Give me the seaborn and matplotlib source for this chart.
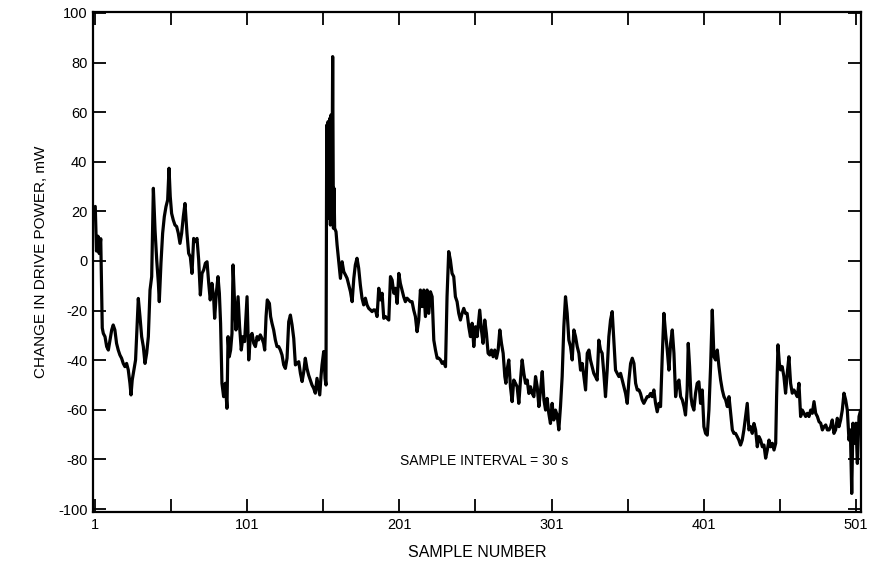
import matplotlib
matplotlib.use("Agg")
import matplotlib.pyplot as plt
import seaborn as sns
import pandas as pd

# ---- data (sample number, change in drive power in mW) ----
sample = [
    1, 1.8, 2.8, 3.6, 4.6, 5.6,
    6.3, 7.4, 8.5, 9.6, 10.7, 11.8, 12.8, 13.9, 15, 16.1, 17.2, 18.3, 19.4, 20.5, 21.6, 22.7, 23.8, 24.5,
    25.3, 26.4, 27.5, 28.6, 29.3, 30.4, 31.5, 32.6, 33.7, 34.8, 35.9, 37, 38.1, 39.2, 40.3, 41.4, 42.5,
    43.1, 44.2, 45.3, 46.4, 47.5, 48.6, 49.5, 50.3, 51.2, 52.3, 53.4, 54.5, 55.6, 56.7, 57.8, 58.9, 60,
    61.3, 62.4, 63.5, 64.6, 65.7, 66.8, 67.9, 69, 70.1, 71.2, 72.3, 73.4, 74.5, 75.6, 76.6, 77.7, 78.8,
    79.5, 80.6, 81.7, 82.6, 83.4, 84.3, 85.4, 86.5, 87.6, 88.3, 89.1, 90, 90.9, 91.6, 92.7, 93.5, 94.9,
    95.9, 97, 98.1, 99.2, 100.8, 101.9, 103, 104.1, 105.2, 106.3, 107.4, 108.4, 109.5, 110.6, 111.7,
    112.4, 113.3, 114.1, 115.5, 116.3, 117.2, 118.3, 119.4, 120.5, 121.6, 122.7,
    123.8, 124.9, 126, 127.1, 128.2, 129.3, 130.4, 131.5, 132.6, 133.7, 134.8, 135.9, 137, 138.1, 139.1,
    140.2, 141.3, 142.4, 143.5, 144.6, 145.7, 146.8, 147.9, 148.6, 149.5, 150.1, 151.2, 152.1, 152.7,
    153.2, 153.6, 154.1, 154.7, 155.2, 155.6, 156, 156.7, 157.1, 157.6, 158, 158.4, 159.3, 160, 161.1,
    162.2, 163.3, 164.4, 165.5, 166.6, 167.7, 168.8, 169.9, 171, 172, 173.1, 174.2, 175.3, 176.4, 177.5,
    178.6, 179.7, 180.8, 181.9, 183, 184.1,
    185.2, 186.3, 187.4, 188.5, 189.6, 190.7, 191.8, 192.9, 194, 195.1, 196.2, 197.3, 198.4, 199.5,
    200.6, 201.6, 202.7, 203.8, 204.9, 206, 207.1, 208.2, 209.3, 210.4, 211.5, 212.6, 213.7, 214.8,
    215.9, 217, 218.1, 219.2, 220.3, 221.4, 222.5, 223.6, 224.7, 225.8, 226.9, 228, 229.1, 230.2, 231.3,
    232.3, 233.4, 234.5, 235.6, 236.7, 237.8, 238.9, 240, 241.1, 242.2, 243.3, 244.4, 245.5, 246.6,
    247.7, 248.8,
    249.9, 251, 252.1, 253.2, 253.8, 254.9, 256, 257.1, 258.2, 259.3, 260.4, 261.5, 262.6, 263.7, 264.8,
    265.9, 267, 268.1, 269.2, 270.3, 271, 271.8, 272.9, 274, 275.1, 276.2, 277.3, 278.4, 279.5, 280.6,
    281.7, 282.8, 283.9, 285, 286.1, 287.2, 288.3, 289.4, 290.5, 291.6, 292.7, 293.8, 294.9, 296, 297.1,
    298.1, 299.2, 300.3, 301.4, 302.5, 303.6, 304.7, 305.8, 306.9, 308, 309.1, 310.2, 311.3,
    312.4, 313.5, 314.6, 315.7, 316.8, 317.9, 319, 320.1, 321.2, 322.3, 323.4, 324.5, 325.6, 326.6,
    327.7, 328.8, 329.9, 331, 332.1, 333.2, 334.3, 335.4, 336.5, 337.6, 338.7, 339.8, 340.9, 342, 343.1,
    344.2, 345.3, 346.4, 347.5, 348.6, 349.7, 350.8, 351.9, 353, 354.1, 355.2, 356.3, 357.4, 358.5,
    359.5, 360.6, 361.7, 362.8, 363.9, 365, 366.1, 367.2, 368.3, 369.4, 370.5, 371.6, 372.7,
    373.8, 374.9, 376, 377.1, 378.2, 379.3, 380.4, 381.5, 382.6, 383.7, 384.8, 385.9, 387, 388.1, 389.1,
    390.2, 390.9, 391.8, 392.7, 393.5, 394.6, 395.7, 396.8, 397.9, 399, 400.1, 401.2, 402.3, 403.4,
    404.5, 405.6, 406.7, 407.8, 408.9, 410, 411.1, 412.2, 413.3, 414.4, 415.5, 416.6, 417.7, 418.8,
    419.9, 420.9, 422, 423.1, 424.2, 425.3, 426.4, 427.5, 428.6, 429.7, 430.8, 431.9, 433, 434.1, 435.2,
    436.3,
    437.4, 438.5, 439.6, 440.7, 441.8, 442.9, 444, 445.1, 446.2, 447.3, 448.4, 449, 449.9, 450.8, 451.6,
    452.7, 453.8, 454.9, 456, 457.1, 458.2, 459.3, 460.4, 461.5, 462.6, 463.7, 464.8, 465.9, 467, 468.1,
    469.2, 470.3, 471.4, 472.5, 473.6, 474.7, 475.8, 476.9, 478, 479.1, 480.2, 481.3, 482.4, 483.5,
    484.5, 485.6, 486.7, 487.8, 488.9, 490, 491.1, 492.2, 493.3, 494.4, 495.5, 496.6, 497.5, 498.4,
    499.2, 500.3, 501.2, 502.1, 503.2, 504.3,
]
power_mw = [
    22, 4, 10, 3, 9, -27,
    -29.2, -30.5, -34.5, -35.9, -31.8, -27.8, -25.8, -27.8, -33.2, -35.9, -37.9, -39.2, -41.3, -42.6,
    -41.3, -43.9, -49.3, -54, -48, -43.9, -39.9, -25.1, -15.1, -22.4, -30.5, -34.5, -41.3, -37.2, -30.5,
    -11.7, -6.3, 29.3, 12.5, 0.4, -9, -16.4, -0.9, 11.2, 17.9, 21.9, 24.6, 37.4, 26, 19.2, 16.5, 14.5,
    13.9, 11.2, 7.1, 11.2, 17.9, 23.2,
    11.2, 3.1, 1.7, -5, 9.1, 7.8, 9.1, 0.4, -13.7, -5, -3.6, -0.9, -0.3, -9, -15.7, -9, -14.4, -23.1,
    -13, -6.3, -13, -25.1, -49.3, -54.7, -49.3, -59.4, -30.5, -38.6, -35.9, -29.2, -1.6, -18.4, -27.8,
    -14.4, -26.5, -35.9, -30.5, -32.5, -14.4, -39.9, -30.5, -29.2, -33.2, -34.5, -30.5, -31.8, -29.8,
    -31.2, -33.2, -35.9, -22.4, -15.7, -17.1, -22.4, -25.1, -27.8, -31.8, -34.5, -34.5, -35.9,
    -37.9, -41.9, -43.3, -39.2, -24.5, -21.8, -25.8, -31.2, -41.9, -41.3, -40.6, -45.3, -48.6, -44.6,
    -39.2, -43.3, -46, -48, -50, -51.3, -53.3, -47.3, -51.3, -54, -46, -41.9, -36.5, -47.3, -50,
    54.8, 19.9, 56.2, 17.2, 57.5, 14.5, 58.9, 33.3, 82.4, 13.2, 29.3, 13.2, 11.8, 6.5, -0.3,
    -7, -0.3, -4.3, -5.6, -7, -9.7, -12.4, -16.4, -7, -1.6, 1.1, -2.9, -9.7, -15, -17.7,
    -15, -17.7, -19.1, -19.7, -20.4, -19.7,
    -19.8, -22.4, -11, -15.7, -13, -23.1, -22.4, -23.1, -23.8, -6.3, -7.7, -13, -11, -17.1,
    -5, -9, -11.7, -14.4, -16.4, -15, -15.7, -16.4, -16.4, -19.8, -22.4, -28.5, -23.8, -11.7,
    -18.4, -11.7, -22.4, -11.7, -21.1, -12.4, -14.4, -31.9, -35.9, -39.2, -39.2, -39.9, -41.3, -40.6,
    -42.6, -14.4, 3.8, 0.4, -5, -6.3, -14.4, -16.4, -21.1, -23.8, -21.1, -19.1, -21.1, -21.1, -26.5,
    -30.5, -25.1,
    -34.5, -26.5, -30.5, -23.8, -19.8, -27.8, -33.2, -23.8, -29.2, -37.2, -37.9, -35.9, -38.6, -35.9,
    -39.2, -35.9, -27.8, -33.2, -37.2, -46.6, -49.3, -43.9, -39.9, -50.7, -56.7, -48, -49.3, -50.7,
    -57.4, -48, -39.9, -45.3, -49.3, -48, -53.4, -50.7, -53.4, -54.7, -46.6, -50.7, -58.7, -52, -44.6,
    -56, -60.1, -55.4, -61.4, -65.5, -57.4, -64.1, -60.1, -62.1, -68.1, -58.7, -46.6, -26.5, -14.4,
    -21.1,
    -31.9, -34.5, -39.9, -27.8, -30.5, -34.5, -37.2, -44, -41.3, -46.6, -52, -37.2, -35.9, -39.9,
    -42.6, -45.3, -46.6, -48, -31.9, -35.9, -37.2, -45.3, -54.7, -44, -30.5, -23.8, -20.4, -31.9, -44,
    -45.3, -46.6, -45.3, -48, -50.7, -53.4, -57.4, -48, -41.3, -39.2, -41.3, -49.3, -52, -52,
    -53.4, -56, -57.4, -56, -54.7, -54.7, -53.4, -54.7, -52, -57.4, -60.8, -57.4, -58.7,
    -38.6, -21.1, -29.2, -35.9, -44, -33.2, -27.8, -37.2, -54.7, -49.3, -48, -54.7, -56, -58.7, -62.1,
    -52, -33.2, -42.6, -54.7, -58.1, -60.1, -53.4, -49.3, -48.7, -57.4, -52, -66.8, -69.5, -70.2,
    -60.1, -42.6, -19.8, -38.6, -39.9, -35.9, -42.6, -48, -52, -54.7, -56, -58.7, -54.7, -61.4,
    -68.1, -69.5, -69.5, -70.8, -72.2, -74.2, -72.2, -68.1, -62.8, -57.4, -68.1, -66.8, -69.5, -65.5,
    -68.1, -74.9,
    -70.8, -72.2, -74.9, -74.2, -79.5, -76.2, -72.2, -74.9, -73.5, -76.2, -73.5, -54.7, -33.8, -41.2,
    -43.9, -42.6, -46.6, -53.3, -45.3, -38.6, -49.3, -53.3, -52, -53.3, -54.7, -49.3, -62.7, -60.1,
    -61.4, -62.7, -61.4, -62.7, -60.1, -61.4, -56.7, -61.4, -62.7, -64.8, -65.4, -68.1, -66.8, -66.1,
    -68.1, -68.1, -66.8, -64.1, -69.5, -68.1, -63.4, -66.8, -64.1, -60.1, -53.3, -56, -60.1, -72.2,
    -68.1, -93.7, -65.4, -73.5, -65.4, -81.6, -62.7, -60.1,
]

x_major = [1, 101, 201, 301, 401, 501]
x_minor = [51, 151, 251, 351, 451]
y_ticks = [-100, -80, -60, -40, -20, 0, 20, 40, 60, 80, 100]

xlabel = "SAMPLE NUMBER"
ylabel = "CHANGE IN DRIVE POWER, mW"
note = "SAMPLE INTERVAL = 30 s"

df = pd.DataFrame({"sample": sample, "power": power_mw})

sns.set_style("ticks")
plt.rcParams["font.family"] = ["Liberation Sans", "DejaVu Sans"]
plt.rcParams["text.color"] = "black"
plt.rcParams["axes.labelcolor"] = "black"
plt.rcParams["xtick.color"] = "black"
plt.rcParams["ytick.color"] = "black"

fig = plt.figure(figsize=(8.69, 5.68), dpi=100)
ax = fig.add_axes([0.107, 0.0986, 0.8838, 0.8803])

sns.lineplot(data=df, x="sample", y="power", ax=ax, color="black",
             linewidth=2.3, estimator=None, sort=False)

ax.set_xlim(-0.5, 504.5)
ax.set_ylim(-101.2, 100.4)

ax.set_xticks(x_major)
ax.set_xticklabels([str(v) for v in x_major])
ax.set_xticks(x_minor, minor=True)
ax.set_yticks(y_ticks)
ax.set_yticklabels([str(v) for v in y_ticks])

ax.tick_params(axis="both", which="both", direction="in", length=9.5, width=1.3,
               top=True, right=True, colors="black", labelcolor="black",
               labelsize=10.5, pad=4)

for s in ax.spines.values():
    s.set_linewidth(1.6)
    s.set_color("black")

ax.set_xlabel(xlabel, fontsize=11.5, labelpad=10, color="black")
ax.set_ylabel(ylabel, fontsize=11, labelpad=7, color="black")

ax.text(201.5, -80.5, note, fontsize=10, ha="left", va="center", color="black")

fig.savefig("out.png", dpi=100)
